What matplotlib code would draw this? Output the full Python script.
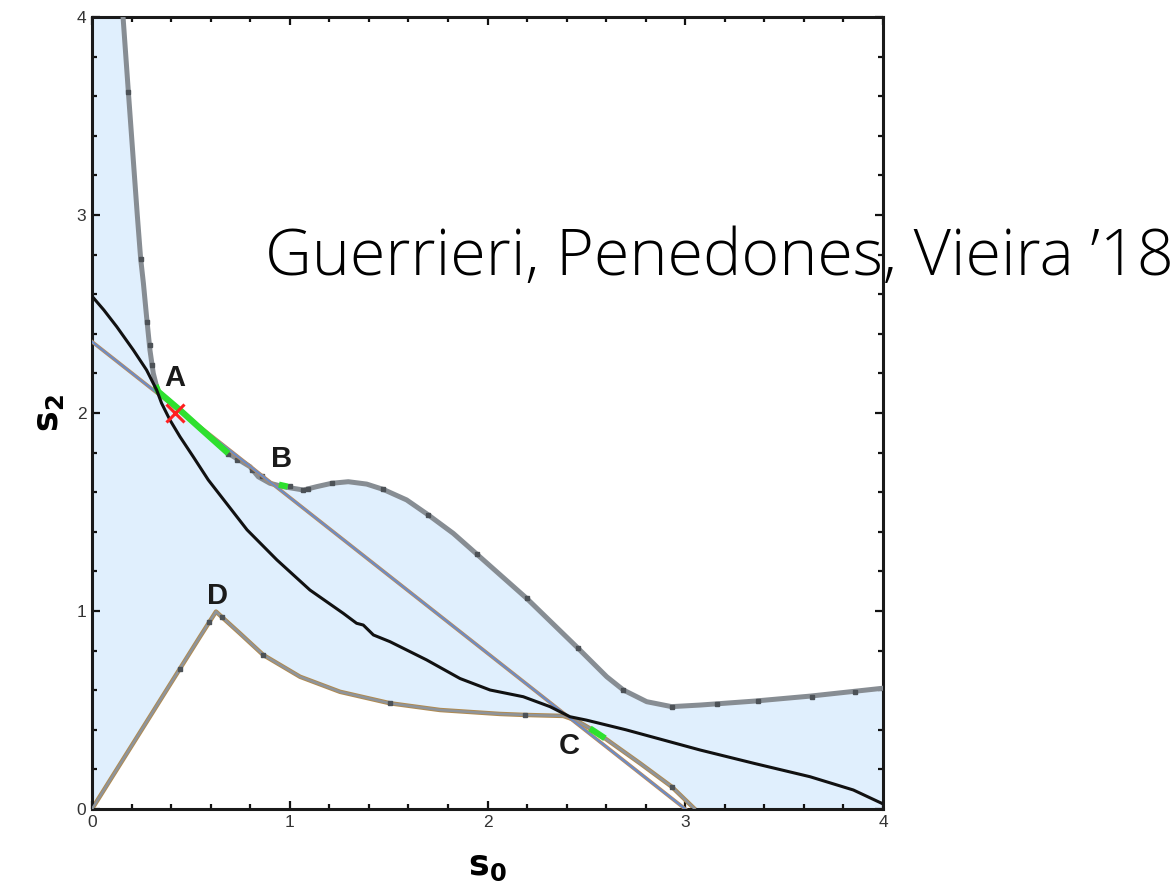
import numpy as np
import matplotlib
matplotlib.use('Agg')
import matplotlib.pyplot as plt
from matplotlib.ticker import MultipleLocator

# upper boundary of the allowed region (gray curve)
upper_x = [0.157, 0.184, 0.229, 0.246, 0.260, 0.276, 0.293, 0.310, 0.327, 0.335, 0.45, 0.55,
           0.689, 0.799, 0.841, 0.90, 0.967, 1.069, 1.136, 1.212, 1.296, 1.389, 1.473, 1.591,
           1.701, 1.827, 1.945, 2.198, 2.459, 2.603, 2.687, 2.805, 2.931, 3.075, 3.35, 3.63, 4.0]
upper_y = [4.0, 3.62, 3.0, 2.78, 2.655, 2.486, 2.318, 2.20, 2.133, 2.108, 2.01, 1.92,
           1.796, 1.729, 1.678, 1.645, 1.628, 1.611, 1.628, 1.645, 1.653, 1.641, 1.614, 1.561,
           1.485, 1.392, 1.288, 1.064, 0.811, 0.668, 0.601, 0.542, 0.517, 0.525, 0.545, 0.57, 0.61]

# lower boundary (curve through D and C)
lower_x = [0.0, 0.546, 0.627, 0.664, 0.748, 0.866, 1.052, 1.254, 1.507, 1.760, 2.063, 2.19,
           2.383, 2.45, 2.518, 2.594, 2.771, 2.931, 3.048]
lower_y = [0.0, 0.870, 0.997, 0.963, 0.887, 0.778, 0.668, 0.592, 0.534, 0.50, 0.48, 0.475,
           0.47, 0.447, 0.407, 0.357, 0.231, 0.113, 0.0]

# black curve
black_x = [0.0, 0.060, 0.125, 0.209, 0.276, 0.327, 0.352, 0.394, 0.445, 0.512, 0.588, 0.784,
           0.935, 1.102, 1.271, 1.338, 1.372, 1.423, 1.507, 1.692, 1.861, 2.013, 2.181, 2.316,
           2.417, 2.50, 2.70, 3.075, 3.35, 3.631, 3.85, 3.993]
black_y = [2.59, 2.52, 2.436, 2.318, 2.217, 2.116, 2.049, 1.965, 1.880, 1.779, 1.662, 1.41,
           1.258, 1.106, 0.988, 0.938, 0.929, 0.879, 0.845, 0.753, 0.659, 0.601, 0.567, 0.517,
           0.466, 0.449, 0.40, 0.298, 0.23, 0.163, 0.096, 0.029]

# straight diagonal line
diag_x = [0.0, 3.0]
diag_y = [2.36, 0.0]

# green highlighted pieces
green_segments = [
    ([0.322, 0.335, 0.45, 0.55, 0.689], [2.14, 2.108, 2.01, 1.92, 1.796]),
    ([0.945, 0.99], [1.638, 1.628]),
    ([2.518, 2.594], [0.407, 0.357]),
]

# mesh points on the gray curves
mesh_up_x = [0.184, 0.246, 0.276, 0.293, 0.305, 0.690, 0.733, 0.809, 0.860, 1.001, 1.067, 1.092,
             1.213, 1.472, 1.70, 1.945, 2.198, 2.459, 2.687, 2.931, 3.159, 3.370, 3.639, 3.858]
mesh_up_y = [3.62, 2.78, 2.46, 2.343, 2.242, 1.795, 1.763, 1.712, 1.682, 1.631, 1.611, 1.616,
             1.646, 1.616, 1.485, 1.288, 1.064, 0.811, 0.601, 0.517, 0.532, 0.547, 0.568, 0.592]
mesh_lo_x = [0.445, 0.593, 0.656, 0.866, 1.507, 2.19, 2.931]
mesh_lo_y = [0.709, 0.945, 0.968, 0.778, 0.534, 0.475, 0.113]

marker_x = [0.42]
marker_y = [2.0]

labels = ['A', 'B', 'C', 'D']
label_x = [0.42, 0.96, 2.412, 0.635]
label_y = [2.177, 1.768, 0.318, 1.078]

fig = plt.figure(figsize=(11.74, 8.91), dpi=100)
ax = fig.add_axes([92 / 1174, 1 - 809 / 891, (883 - 92) / 1174, (809 - 17) / 891])

# shaded region
poly_x = [0.0] + upper_x + [4.0, 3.048] + lower_x[::-1]
poly_y = [4.0] + upper_y + [0.0, 0.0] + lower_y[::-1]
ax.fill(poly_x, poly_y, color='#e0effd', lw=0, zorder=1)

# lower curve: orange edge under gray
ax.plot(lower_x, lower_y, color='#b08a50', lw=3.2, zorder=2, solid_joinstyle='round')
ax.plot(lower_x, lower_y, color='#8e949b', lw=1.8, zorder=3, solid_joinstyle='round')
ax.plot(mesh_lo_x, mesh_lo_y, 's', color='#4d5257', ms=3, zorder=4)

# upper curve
ax.plot(upper_x, upper_y, color='#878d93', lw=3.6, zorder=3, solid_joinstyle='round')
ax.plot(mesh_up_x, mesh_up_y, 's', color='#4d5257', ms=3.3, zorder=4)

# diagonal line
ax.plot(diag_x, diag_y, color='#c08b55', lw=2.6, zorder=5)
ax.plot(diag_x, diag_y, color='#6d8cc4', lw=1.6, zorder=6)

for gx, gy in green_segments:
    ax.plot(gx, gy, color='#2ee02e', lw=4.5, zorder=7, solid_capstyle='butt')

ax.plot(black_x, black_y, color='#111111', lw=2.2, zorder=8, solid_joinstyle='round')

ax.plot(marker_x, marker_y, 'x', color='#ff2020', ms=13, mew=2.2, zorder=9)

for t, lx, ly in zip(labels, label_x, label_y):
    ax.text(lx, ly, t, fontsize=21, fontweight='bold', family='Liberation Sans',
            ha='center', va='center', color='#1a1a1a', zorder=10)

ax.set_xlim(0, 4)
ax.set_ylim(0, 4)
ax.xaxis.set_major_locator(MultipleLocator(1))
ax.yaxis.set_major_locator(MultipleLocator(1))
ax.xaxis.set_minor_locator(MultipleLocator(0.2))
ax.yaxis.set_minor_locator(MultipleLocator(0.2))
ax.tick_params(which='both', direction='in', top=True, right=True, width=1.6, color='#111111',
               labelsize=12.5, labelcolor='#333333', pad=4)
ax.tick_params(which='major', length=6)
ax.tick_params(which='minor', length=3.5)
for lab in ax.get_xticklabels() + ax.get_yticklabels():
    lab.set_family('Liberation Sans')
for sp in ax.spines.values():
    sp.set_linewidth(2.2)
    sp.set_color('#1a1a1a')

ax.set_xlabel(r'$\mathbf{s_0}$', fontsize=25, labelpad=14)
ax.set_ylabel(r'$\mathbf{s_2}$', fontsize=25, labelpad=8)

fig.text(265 / 1174, 1 - 275 / 891, 'Guerrieri, Penedones, Vieira \u201918',
         fontsize=46.5, family=['Open Sans', 'Roboto'], fontweight='light',
         ha='left', va='baseline', color='#000000')

fig.savefig('out.png', dpi=100)
